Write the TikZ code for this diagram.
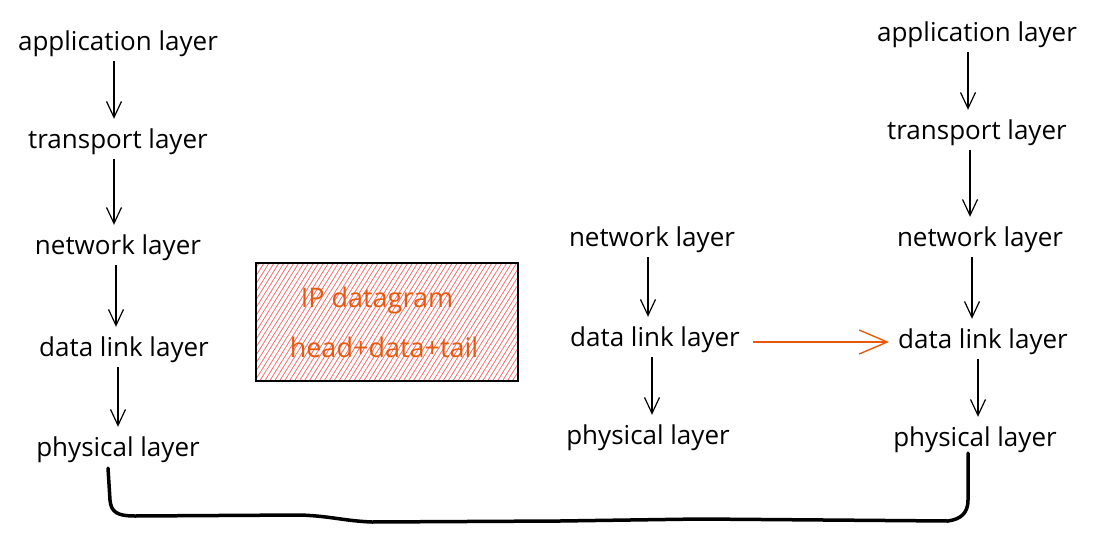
\documentclass[tikz,border=0pt]{standalone}
\usepackage{fontspec}
\setmainfont{Open Sans}
\usetikzlibrary{arrows.meta,patterns.meta,calc}
\definecolor{txtred}{HTML}{E8590C}
\definecolor{hatch}{HTML}{F76B6B}
\begin{document}
\begin{tikzpicture}[x=1pt,y=-1pt,
  lay/.style={font=\fontsize{26}{30}\selectfont, text=black, inner sep=1pt},
  down/.style={draw=black, line width=1.2pt, -{Straight Barb[length=16pt,width=15pt,line width=1.2pt]}, shorten <=3pt, shorten >=9pt},
  redtxt/.style={font=\fontsize{27}{30}\selectfont, text=txtred},
  brace/.style={draw=black, line width=3.5pt, line cap=round, line join=round}
]
\useasboundingbox (0,0) rectangle (1097,543);
% left stack
\node[lay] (la) at (118,44) {application layer};
\node[lay] (lt) at (118,142) {transport layer};
\node[lay] (ln) at (118,248) {network layer};
\node[lay] (ld) at (124,350) {data link layer};
\node[lay] (lp) at (118,450) {physical layer};
\draw[down] ($(la.south)+(-4,0)$) -- ($(la.south |- lt.north)+(-4,0)$);
\draw[down] ($(lt.south)+(-4,0)$) -- ($(lt.south |- ln.north)+(-4,0)$);
\draw[down] ($(ln.south)+(-2,0)$) -- ($(ln.south |- ld.north)+(-2,0)$);
\draw[down] ($(ld.south)+(-6,0)$) -- ($(ld.south |- lp.north)+(-6,0)$);
% middle stack
\node[lay] (mn) at (652,240) {network layer};
\node[lay] (md) at (655,340) {data link layer};
\node[lay] (mp) at (648,438) {physical layer};
\draw[down] ($(mn.south)+(-4,0)$) -- ($(mn.south |- md.north)+(-4,0)$);
\draw[down] ($(md.south)+(-3,0)$) -- ($(md.south |- mp.north)+(-3,0)$);
% right stack
\node[lay] (ra) at (977,35) {application layer};
\node[lay] (rt) at (977,133) {transport layer};
\node[lay] (rn) at (980,240) {network layer};
\node[lay] (rd) at (983,342) {data link layer};
\node[lay] (rp) at (975,440) {physical layer};
\draw[down] ($(ra.south)+(-9,0)$) -- ($(ra.south |- rt.north)+(-9,0)$);
\draw[down] ($(rt.south)+(-7,0)$) -- ($(rt.south |- rn.north)+(-7,0)$);
\draw[down] ($(rn.south)+(-8,0)$) -- ($(rn.south |- rd.north)+(-8,0)$);
\draw[down] ($(rd.south)+(-5,0)$) -- ($(rd.south |- rp.north)+(-5,0)$);
% orange arrow
\draw[draw=txtred, line width=1.4pt, -{Straight Barb[length=28pt,width=24pt,line width=1.4pt]}] ($(md.east)+(12,2)$) -- ($(rd.west)+(-8,0)$);
% box
\draw[draw=black, line width=1.4pt, pattern={Lines[angle=58,distance=4.2pt,line width=0.8pt]}, pattern color=hatch] (256,263) rectangle (518,381);
\node[redtxt] (ip) at (377,300) {IP datagram};
\node[redtxt] (hd) at (384,347) {head+data+tail};
% bracket
\coordinate (b1) at ($(lp.south)+(-10,4)$);
\coordinate (b2) at ($(rp.south)+(-7,-1)$);
\draw[brace] (b1) -- (110,500) .. controls (111,512) and (117,516) .. (135,516) -- (300,515) .. controls (330,516) and (345,521) .. (372,522) -- (560,521) -- (700,519) -- (948,521) .. controls (962,519) and (968,512) .. (968,500) -- (b2);
\end{tikzpicture}
\end{document}
